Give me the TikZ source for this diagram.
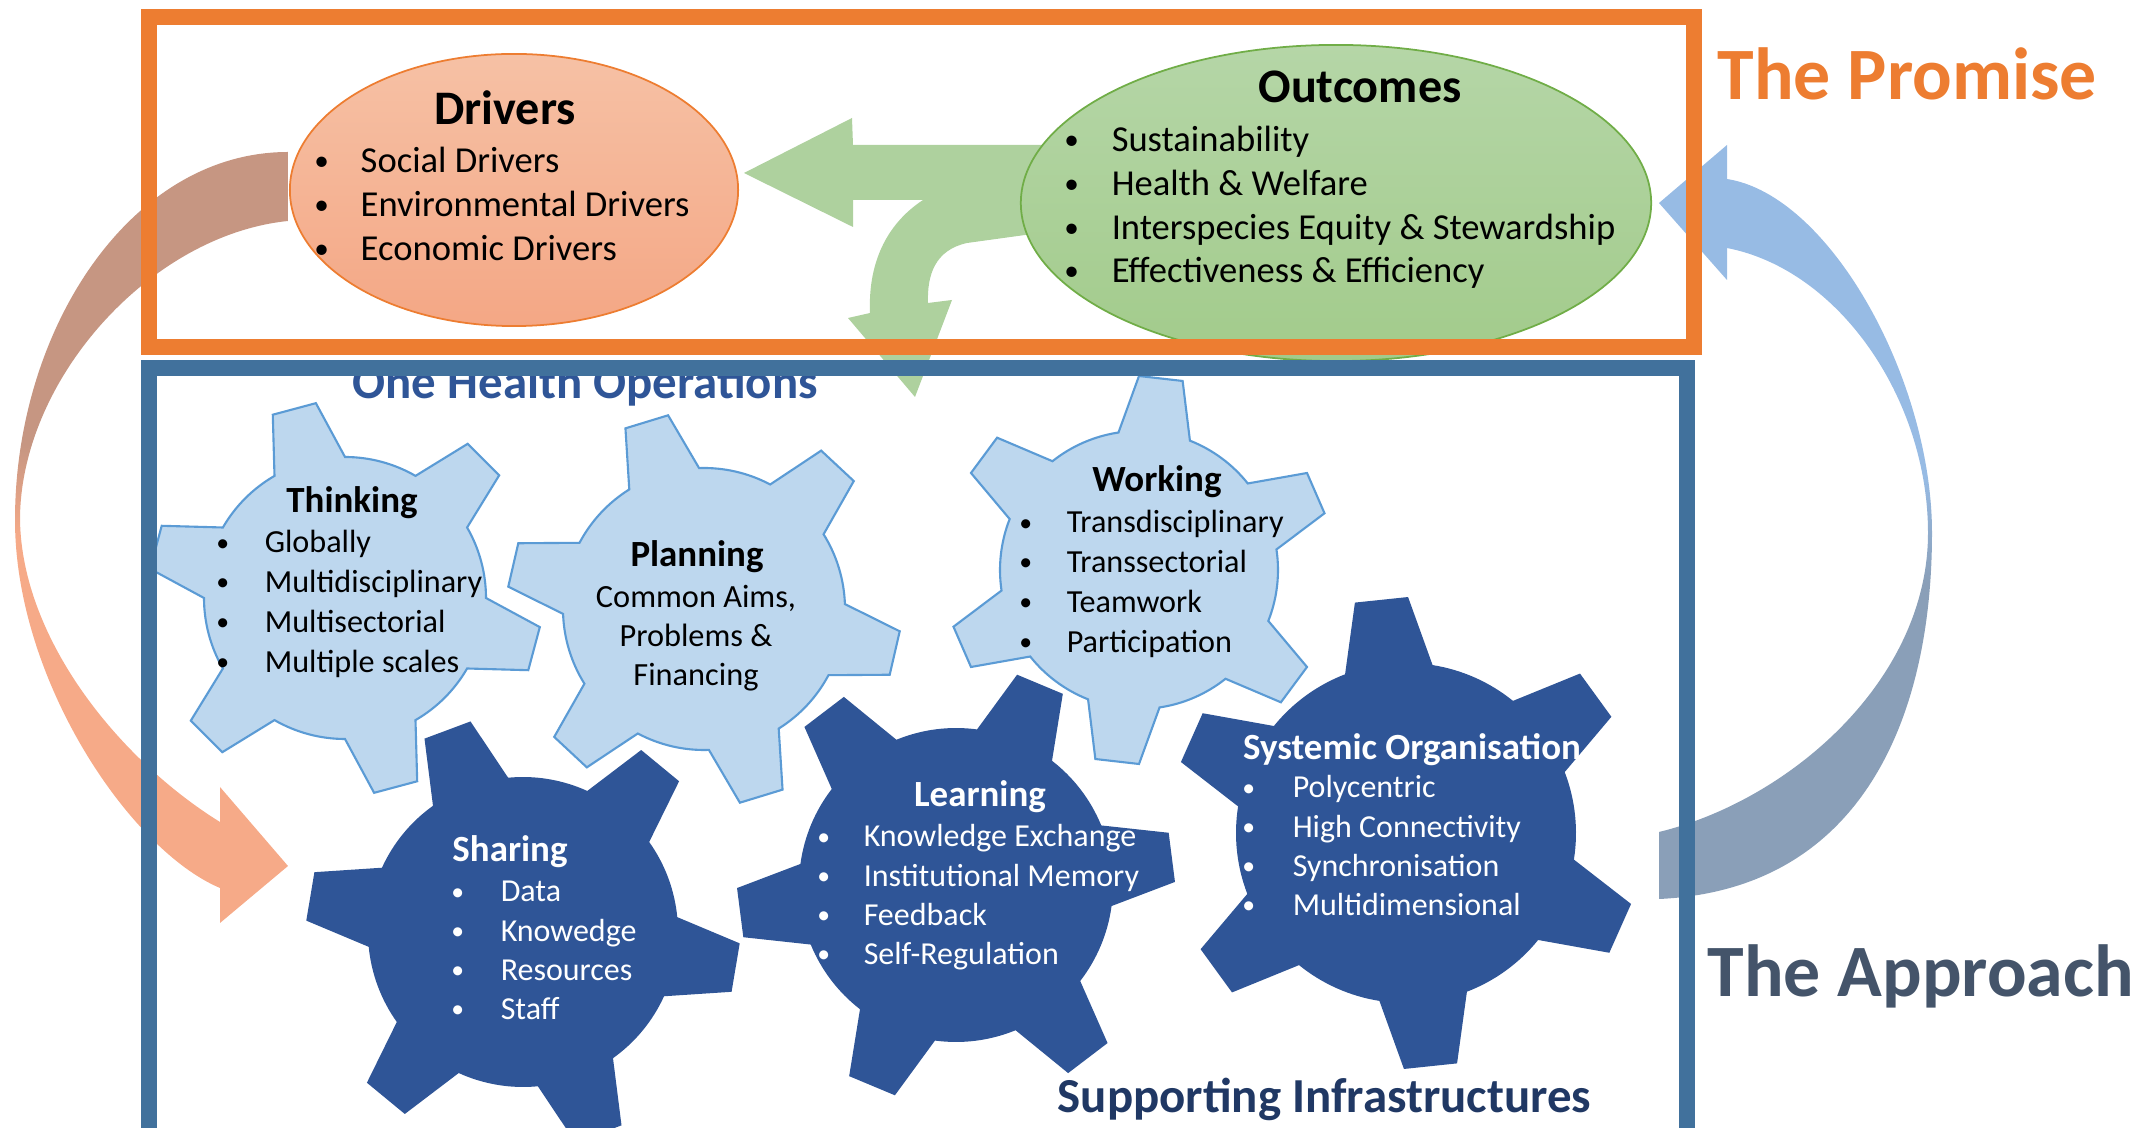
\documentclass[tikz,border=0pt]{standalone}
\usepackage{fontspec}
\usepackage{graphicx}
\setmainfont{Carlito}
\usetikzlibrary{shapes.geometric}

% colours
\definecolor{promise}{HTML}{ED7D31}
\definecolor{approach}{HTML}{44546A}
\definecolor{frameblue}{HTML}{41719C}
\definecolor{opsblue}{HTML}{2F5597}
\definecolor{infrablue}{HTML}{203864}
\definecolor{lightgear}{HTML}{BDD7EE}
\definecolor{lightgearline}{HTML}{5B9BD5}
\definecolor{darkgear}{HTML}{2F5597}
\definecolor{driverstop}{HTML}{F6C1A5}
\definecolor{driversbot}{HTML}{F4A785}
\definecolor{outtop}{HTML}{B5D6A7}
\definecolor{outbot}{HTML}{A2CB8B}
\definecolor{outline}{HTML}{70AD47}
\definecolor{greenarrow}{HTML}{AED19E}
\definecolor{leftarrowtop}{HTML}{C69682}
\definecolor{leftarrowbot}{HTML}{F6AA88}
\definecolor{rightarrowtop}{HTML}{97BBE4}
\definecolor{rightarrowbot}{HTML}{8A9FB8}

\pgfdeclareverticalshading{leftarrowshade}{100bp}{color(0bp)=(leftarrowbot); color(50bp)=(leftarrowbot); color(56bp)=(leftarrowtop); color(100bp)=(leftarrowtop)}
\pgfdeclareverticalshading{rightarrowshade}{100bp}{color(0bp)=(rightarrowbot); color(46bp)=(rightarrowbot); color(53bp)=(rightarrowtop); color(100bp)=(rightarrowtop)}

% bullet lists
\newlength\bulletwd
\newcommand{\itm}[1]{\makebox[\bulletwd]{\raisebox{0.06em}{\scalebox{0.8}{\textbullet}}} & #1\\}
\newcommand{\blist}[2]{{\setlength\bulletwd{#1}\begin{tabular}[t]{@{}l@{}l@{}}#2\end{tabular}}}

% gear: centre x, centre y, inner radius, outer radius, rotation, style
\newcommand{\gear}[6]{%
  \path[#6, shift={(#1,#2)}] ({-(#5)-15}:#3)
    \foreach \k [evaluate=\k as \ang using -(#5)+60*\k] in {0,...,5}{
      -- ({\ang-6.5}:#4) -- ({\ang+6.5}:#4) -- ({\ang+15}:#3)
      arc[start angle={\ang+15}, end angle={\ang+45}, radius=#3]
    } -- cycle;
}

\begin{document}
\begin{tikzpicture}[x=0.01cm, y=-0.01cm,
    bigtitle/.style={anchor=base, inner sep=0pt, font=\bfseries\fontsize{13.7}{16}\selectfont},
    biglist/.style={anchor=base west, inner sep=0pt, font=\fontsize{10.4}{12.4}\selectfont},
    geartitle/.style={anchor=base, inner sep=0pt, font=\bfseries\fontsize{10.5}{12}\selectfont},
    lightlist/.style={anchor=base west, inner sep=0pt, font=\fontsize{9.15}{11.3}\selectfont},
    darklist/.style={anchor=base west, inner sep=0pt, text=white, font=\fontsize{9.1}{11.1}\selectfont},
    lightgearstyle/.style={fill=lightgear, draw=lightgearline, line width=0.6pt},
    darkgearstyle/.style={fill=darkgear},
    sidelabel/.style={anchor=base west, inner sep=0pt, font=\bfseries\fontsize{21}{24}\selectfont},
    layerlabel/.style={anchor=base west, inner sep=0pt, font=\bfseries\fontsize{13.9}{16}\selectfont}]
    \useasboundingbox (0,0) rectangle (2141,1128);

    % curved arrow from the drivers down to the operations
    \shade[shading=leftarrowshade] (288,152) .. controls (130,152) and (15,330) .. (15,520)
        .. controls (15,680) and (130,850) .. (220,888) -- (220,923) -- (288,866) -- (220,787) -- (220,822)
        .. controls (120,760) and (22,640) .. (20,520) .. controls (20,380) and (150,235) .. (288,221) -- cycle;

    % curved arrow from the infrastructures up to the outcomes
    \shade[shading=rightarrowshade] (1659,203) -- (1727,145) -- (1727,179)
        .. controls (1830,195) and (1932,380) .. (1932,533) .. controls (1932,720) and (1860,890) .. (1659,899)
        -- (1659,832) .. controls (1790,800) and (1928,680) .. (1928,533)
        .. controls (1928,400) and (1840,270) .. (1727,248) -- (1727,280) -- cycle;

    % split arrow out of the outcomes
    \fill[greenarrow] (744,173) -- (852,118) -- (853,145) -- (1100,145) -- (1100,235) -- (1025,235)
        -- (967,243) .. controls (935,250) and (927,275) .. (928,303) -- (952,300) -- (915,397) -- (848,318)
        -- (870,313) .. controls (868,265) and (885,225) .. (923,200) -- (853,200) -- (853,227) -- cycle;

    % the promise
    \node[ellipse, minimum width=4.48cm, minimum height=2.72cm, inner sep=0pt, draw=promise, line width=0.5pt,
        top color=driverstop, bottom color=driversbot] (drivers) at (514,190) {};
    \node[ellipse, minimum width=6.3cm, minimum height=3.16cm, inner sep=0pt, draw=outline, line width=0.5pt,
        top color=outtop, bottom color=outbot] (outcomes) at (1336,203) {};

    \node[bigtitle] (drivers-title) at (505,125) {Drivers};
    \node[biglist] (drivers-list) at (282,173) {\blist{0.78cm}{\itm{Social Drivers}\itm{Environmental Drivers}\itm{Economic Drivers}}};
    \node[bigtitle] (outcomes-title) at (1360,103) {Outcomes};
    \node[biglist] (outcomes-list) at (1031,152) {\blist{0.8cm}{\itm{Sustainability}\itm{Health \& Welfare}\itm{Interspecies Equity \& Stewardship}\itm{Effectiveness \& Efficiency}}};

    % operations gears
    \gear{345}{598}{141}{197}{105}{lightgearstyle}
    \gear{704}{609}{141}{197}{107}{lightgearstyle}
    \gear{1139}{570}{139}{194}{83.5}{lightgearstyle}

    % infrastructure gears
    \gear{523}{932}{155}{217}{110.5}{darkgearstyle}
    \gear{956}{885}{157}{219}{7.3}{darkgearstyle}
    \gear{1406}{833}{170}{236}{96}{darkgearstyle}

    \node[geartitle] (thinking-title) at (352,513) {Thinking};
    \node[lightlist] (thinking-list) at (180,553) {\blist{0.84cm}{\itm{Globally}\itm{Multidisciplinary}\itm{Multisectorial}\itm{Multiple scales}}};
    \node[geartitle] (planning-title) at (697,567) {Planning};
    \node[anchor=base, inner sep=0pt, font=\fontsize{9.2}{10.95}\selectfont] (planning-text) at (696,608)
        {\begin{tabular}[t]{@{}c@{}}Common Aims,\\Problems \&\\Financing\end{tabular}};
    \node[geartitle] (working-title) at (1157,492) {Working};
    \node[lightlist] (working-list) at (984,533) {\blist{0.82cm}{\itm{Transdisciplinary}\itm{Transsectorial}\itm{Teamwork}\itm{Participation}}};

    \node[geartitle, text=white] (sharing-title) at (510,862) {Sharing};
    \node[darklist] (sharing-list) at (414,902) {\blist{0.86cm}{\itm{Data}\itm{Knowedge}\itm{Resources}\itm{Staff}}};
    \node[geartitle, text=white] (learning-title) at (980,807) {Learning};
    \node[darklist] (learning-list) at (783,847) {\blist{0.8cm}{\itm{Knowledge Exchange}\itm{Institutional Memory}\itm{Feedback}\itm{Self-Regulation}}};
    \node[geartitle, text=white] (systemic-title) at (1412,760) {Systemic Organisation};
    \node[darklist] (systemic-list) at (1204,798) {\blist{0.88cm}{\itm{Polycentric}\itm{High Connectivity}\itm{Synchronisation}\itm{Multidimensional}}};

    % labels
    \node[sidelabel, text=promise] (promise-label) at (1717,100) {The Promise};
    \node[sidelabel, text=approach] (approach-label) at (1707,997) {The Approach};
    \node[layerlabel, text=opsblue] (operations-label) at (352,399) {One Health Operations};
    \node[layerlabel, text=infrablue] (infrastructures-label) at (1057,1113) {Supporting Infrastructures};

    % frames
    \draw[promise, line width=0.16cm] (149,17) rectangle (1694,347);
    \draw[frameblue, line width=0.16cm] (149,368) rectangle (1687,1250);
\end{tikzpicture}
\end{document}
